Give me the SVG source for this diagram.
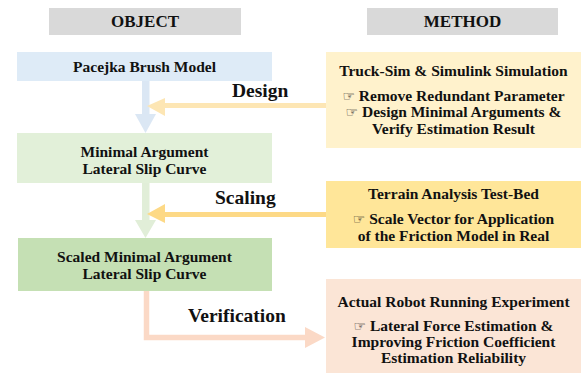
<svg xmlns="http://www.w3.org/2000/svg" width="582" height="383" viewBox="0 0 582 383">
<style>
text{font-family:"Liberation Serif","Times New Roman","DejaVu Serif",serif;font-weight:bold;fill:#111;text-anchor:middle}
.h{font-size:17px}
.b{font-size:15.5px}
.l{font-family:"Liberation Serif","Times New Roman",serif;font-size:19.5px;text-anchor:start}
.sym{font-family:"DejaVu Sans",sans-serif;font-weight:normal;font-size:14px}
</style>
<rect width="582" height="383" fill="#ffffff"/>
<g id="connectors">
  <rect x="142" y="81" width="7.5" height="34" fill="#dbe7f4"/>
  <polygon points="135,114 156,114 145.5,133" fill="#dbe7f4"/>
  <rect x="142" y="183" width="7.5" height="38" fill="#e1eed8"/>
  <polygon points="135,220 156,220 145.5,238" fill="#e1eed8"/>
  <rect x="163" y="103" width="163" height="5" fill="#fde6b4"/>
  <polygon points="147,106 165,98 165,116" fill="#fde6b4"/>
  <rect x="163" y="212" width="163" height="5" fill="#fdd986"/>
  <polygon points="147,214 165,204 165,223" fill="#fdd986"/>
  <path d="M146.5,291 V337.5 H308" fill="none" stroke="#fbd9c6" stroke-width="5.5"/>
  <polygon points="305,327 325,337.5 305,348" fill="#fbd9c6"/>
</g>
<g id="object-header">
  <rect x="49" y="8" width="192" height="27" fill="#d9d9d9"/>
  <text class="h" x="145" y="27">OBJECT</text>
</g>
<g id="method-header">
  <rect x="367" y="8" width="191" height="27" fill="#d9d9d9"/>
  <text class="h" x="462.5" y="27">METHOD</text>
</g>
<g id="pacejka">
  <rect x="17" y="52" width="255" height="29" fill="#deebf7"/>
  <text class="b" x="144.5" y="72">Pacejka Brush Model</text>
</g>
<g id="minimal">
  <rect x="17" y="133" width="255" height="50" fill="#e2f0d9"/>
  <text class="b" x="144.5" y="157">Minimal Argument</text>
  <text class="b" x="144.5" y="174">Lateral Slip Curve</text>
</g>
<g id="scaled">
  <rect x="18" y="238" width="254" height="53" fill="#c5e0b4"/>
  <text class="b" x="144.5" y="262">Scaled Minimal Argument</text>
  <text class="b" x="144.5" y="279">Lateral Slip Curve</text>
</g>
<g id="truck-sim">
  <rect x="326" y="52" width="255" height="96" fill="#fff2cc"/>
  <text class="b" x="453.5" y="76">Truck-Sim &amp; Simulink Simulation</text>
  <text class="b" x="453.5" y="101"><tspan class="sym">☞</tspan> Remove Redundant Parameter</text>
  <text class="b" x="453.5" y="117"><tspan class="sym">☞</tspan> Design Minimal Arguments &amp;</text>
  <text class="b" x="453.5" y="134">Verify Estimation Result</text>
</g>
<g id="terrain">
  <rect x="326" y="181" width="255" height="67" fill="#ffe699"/>
  <text class="b" x="453.5" y="199">Terrain Analysis Test-Bed</text>
  <text class="b" x="453.5" y="224"><tspan class="sym">☞</tspan> Scale Vector for Application</text>
  <text class="b" x="453.5" y="241">of the Friction Model in Real</text>
</g>
<g id="actual">
  <rect x="326" y="279" width="255" height="94" fill="#fbe5d6"/>
  <text class="b" x="453.5" y="307">Actual Robot Running Experiment</text>
  <text class="b" x="453.5" y="331"><tspan class="sym">☞</tspan> Lateral Force Estimation &amp;</text>
  <text class="b" x="453.5" y="347">Improving Friction Coefficient</text>
  <text class="b" x="453.5" y="363">Estimation Reliability</text>
</g>
<g id="labels">
  <text class="l" x="232" y="97">Design</text>
  <text class="l" x="215" y="204">Scaling</text>
  <text class="l" x="188" y="322">Verification</text>
</g>
</svg>
